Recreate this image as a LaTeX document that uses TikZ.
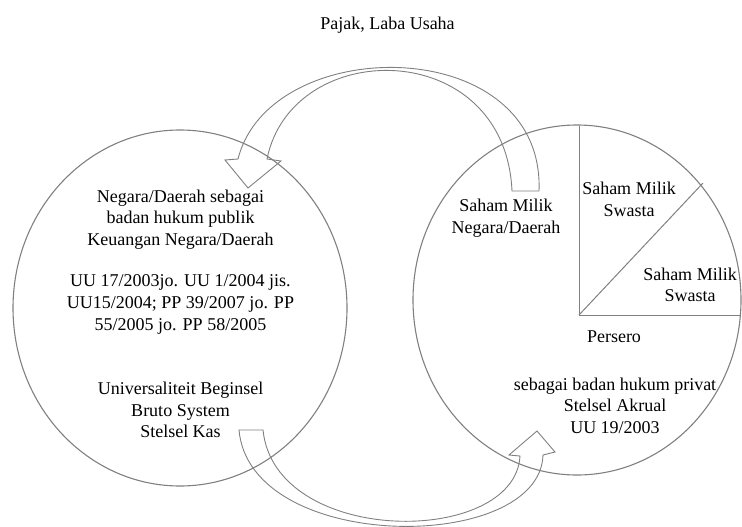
\documentclass[tikz,border=0pt]{standalone}
\usepackage{fontspec}
\setmainfont{Liberation Serif}
\usetikzlibrary{shapes.geometric}
\tikzset{
  lbl/.style={align=center, inner sep=0pt, font=\fontsize{18}{21.6}\selectfont, text=black},
  ring/.style={draw=black!50, line width=1.1pt},
  blockarrow/.style={draw=black!50, line width=0.9pt, line join=miter},
  pieline/.style={draw=black!50, line width=1pt}
}
\begin{document}
\begin{tikzpicture}[x=1pt, y=-1pt]
\useasboundingbox (0,0) rectangle (742,527);
% circles
\node[ring, ellipse, minimum width=334pt, minimum height=356pt, inner sep=0pt] (lc) at (180,308) {};
\node[ring, ellipse, minimum width=328pt, minimum height=350pt, inner sep=0pt] (rc) at (577,300) {};
% pie inside right circle
\coordinate (pc) at (579,315);
\coordinate (ptop) at (579,125.5);
\coordinate (pdiag) at (703,183);
\coordinate (pright) at (740.5,315);
\draw[pieline] (ptop) -- (pc) -- (pright);
\draw[pieline] (pc) -- (pdiag);
% top curved arrow (from right circle to left circle)
\coordinate (ta1) at (512,191);
\coordinate (ta2) at (539,191);
\coordinate (tb1) at (238,159);
\coordinate (tb2) at (267,159);
\coordinate (tf1) at (225,160);
\coordinate (tf2) at (281,161);
\coordinate (ttip) at (248,188);
\draw[blockarrow] (ta1) -- (ta2)
  .. controls (545,32) and (270,32) .. (tb1)
  -- (tf1) -- (ttip) -- (tf2) -- (tb2)
  .. controls (292,36) and (505,36) .. (ta1) -- cycle;
% bottom curved arrow (from left circle to right circle)
\coordinate (ba1) at (239,430);
\coordinate (ba2) at (263,430);
\coordinate (bb1) at (543,455);
\coordinate (bb2) at (520,456);
\coordinate (bf1) at (555,452);
\coordinate (bf2) at (509,455);
\coordinate (btip) at (537,431);
\draw[blockarrow] (ba1) -- (ba2)
  .. controls (275,547) and (515,547) .. (bb2)
  -- (bf2) -- (btip) -- (bf1) -- (bb1)
  .. controls (540,554) and (250,554) .. (ba1) -- cycle;
% texts
\node[lbl] (pajak) at (387.5,25) {Pajak, Laba Usaha};
\node[lbl] (la) at (180.5,219.5) {Negara/Daerah sebagai\\badan hukum publik\\Keuangan Negara/Daerah};
\node[lbl] (lb) at (180.5,304.5) {UU 17/2003jo. UU 1/2004 jis.\\UU15/2004; PP 39/2007 jo. PP\\55/2005 jo. PP 58/2005};
\node[lbl] (lcx) at (180.5,410) {Universaliteit Beginsel\\Bruto System\\Stelsel Kas};
\node[lbl] (rn) at (506,218) {Saham Milik\\Negara/Daerah};
\node[lbl] (rs1) at (629,199.5) {Saham Milik\\Swasta};
\node[lbl] (rs2) at (690,285) {Saham Milik\\Swasta};
\node[lbl] (rp) at (614,337) {Persero};
\node[lbl] (rb) at (615,405.5) {sebagai badan hukum privat\\Stelsel Akrual\\UU 19/2003};
\end{tikzpicture}
\end{document}
